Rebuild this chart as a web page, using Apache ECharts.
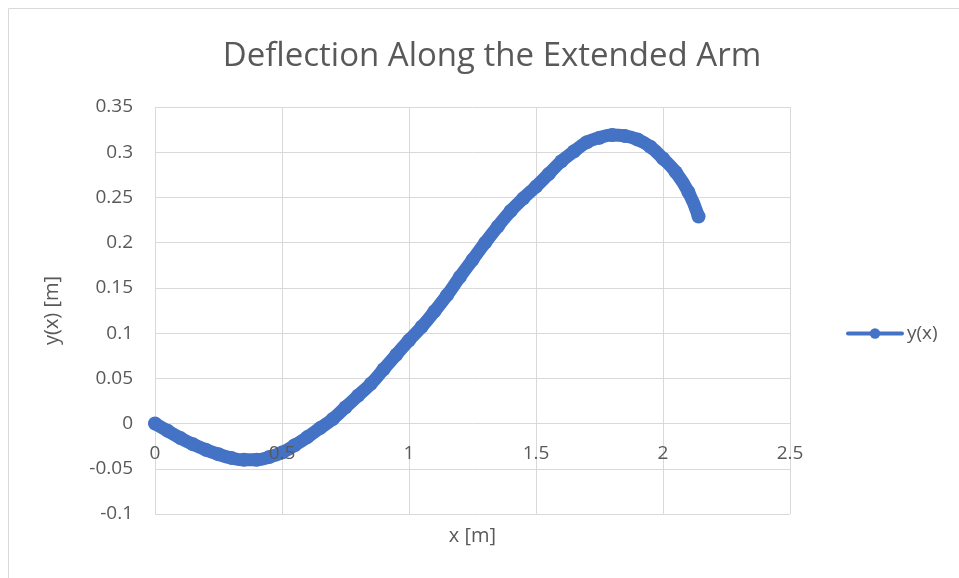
<!DOCTYPE html>
<html>
<head>
<meta charset="utf-8">
<script src="https://cdn.jsdelivr.net/npm/echarts@6/dist/echarts.min.js"></script>
<style>
html,body{margin:0;padding:0;background:#fff;}
#c{width:959px;height:578px;}
</style>
</head>
<body>
<div id="c"></div>
<script>
// x positions along the arm [m]
var xValues = [0, 0.05, 0.10, 0.15, 0.20, 0.25, 0.30, 0.35, 0.40, 0.45, 0.50, 0.55, 0.60, 0.65, 0.70, 0.75, 0.80, 0.85, 0.90, 0.95, 1.00, 1.05, 1.10, 1.15, 1.20, 1.25, 1.30, 1.35, 1.40, 1.45, 1.50, 1.55, 1.60, 1.65, 1.70, 1.75, 1.80, 1.85, 1.90, 1.95, 2.00, 2.05, 2.10, 2.14];
// deflection y(x) [m]
var yValues = [0, -0.008, -0.016, -0.023, -0.029, -0.034, -0.038, -0.040, -0.040, -0.037, -0.032, -0.024, -0.015, -0.005, 0.005, 0.018, 0.031, 0.044, 0.060, 0.076, 0.092, 0.107, 0.124, 0.142, 0.162, 0.181, 0.200, 0.218, 0.235, 0.249, 0.262, 0.276, 0.290, 0.301, 0.311, 0.316, 0.319, 0.318, 0.314, 0.306, 0.293, 0.278, 0.256, 0.229];
var seriesName = 'y(x)';
var xTicks = ['0', '0.5', '1', '1.5', '2', '2.5'];
var yTicks = ['-0.1', '-0.05', '0', '0.05', '0.1', '0.15', '0.2', '0.25', '0.3', '0.35'];

var data = xValues.map(function (x, i) { return [x, yValues[i]]; });
var FONT = '"Open Sans", "Noto Sans", sans-serif';
var chart = echarts.init(document.getElementById('c'), null, {renderer: 'canvas'});
chart.setOption({
  animation: false,
  backgroundColor: '#fff',
  textStyle: {fontFamily: FONT},
  graphic: [{
    type: 'rect',
    shape: {x: 8.5, y: 8.5, width: 2000, height: 2000},
    style: {fill: 'none', stroke: '#d9d9d9', lineWidth: 1},
    silent: true, z: -10
  }],
  title: {
    text: 'Deflection Along the Extended Arm',
    left: 487, top: 35, textAlign: 'center',
    textStyle: {fontFamily: FONT, fontSize: 33, fontWeight: 'normal', color: '#595959'}
  },
  legend: {
    data: [seriesName],
    left: 841, top: 319,
    itemWidth: 54, itemHeight: 13,
    lineStyle: {width: 4},
    textStyle: {fontFamily: FONT, fontSize: 19, color: '#595959'}
  },
  grid: {left: 155, right: 169, top: 107, bottom: 64, containLabel: false, outerBoundsMode: 'none'},
  xAxis: [{
    type: 'value', min: 0, max: 2.5, interval: 0.5,
    name: 'x [m]', nameLocation: 'middle', nameGap: 12,
    nameTextStyle: {fontFamily: FONT, fontSize: 20, color: '#595959', verticalAlign: 'top'},
    axisLine: {show: false, onZero: false},
    axisTick: {show: false},
    axisLabel: {show: false},
    splitLine: {show: true, lineStyle: {color: '#d9d9d9', width: 1}}
  }, {
    type: 'value', min: 0, max: 2.5, interval: 0.5, position: 'bottom', z: 5,
    axisLine: {show: false, onZero: false},
    axisTick: {show: false},
    splitLine: {show: false},
    axisLabel: {
      fontFamily: FONT, fontSize: 19, color: '#595959', margin: -70,
      formatter: function (v) { return xTicks[Math.round(v / 0.5)]; }
    }
  }],
  yAxis: {
    type: 'value', min: -0.1, max: 0.35, interval: 0.05,
    name: 'y(x) [m]', nameLocation: 'middle', nameGap: 93,
    nameTextStyle: {fontFamily: FONT, fontSize: 20, color: '#595959'},
    axisLine: {show: false},
    axisTick: {show: false},
    axisLabel: {
      fontFamily: FONT, fontSize: 19, color: '#595959', margin: 22,
      formatter: function (v) { return yTicks[Math.round((v + 0.1) / 0.05)]; }
    },
    splitLine: {show: true, lineStyle: {color: '#d9d9d9', width: 1}}
  },
  series: [{
    name: seriesName,
    type: 'line',
    xAxisIndex: 0,
    data: data,
    smooth: true,
    symbol: 'circle',
    symbolSize: 14,
    showSymbol: true,
    itemStyle: {color: '#4472C4'},
    lineStyle: {color: '#4472C4', width: 13, cap: 'round', join: 'round'}
  }]
});
</script>
</body>
</html>
